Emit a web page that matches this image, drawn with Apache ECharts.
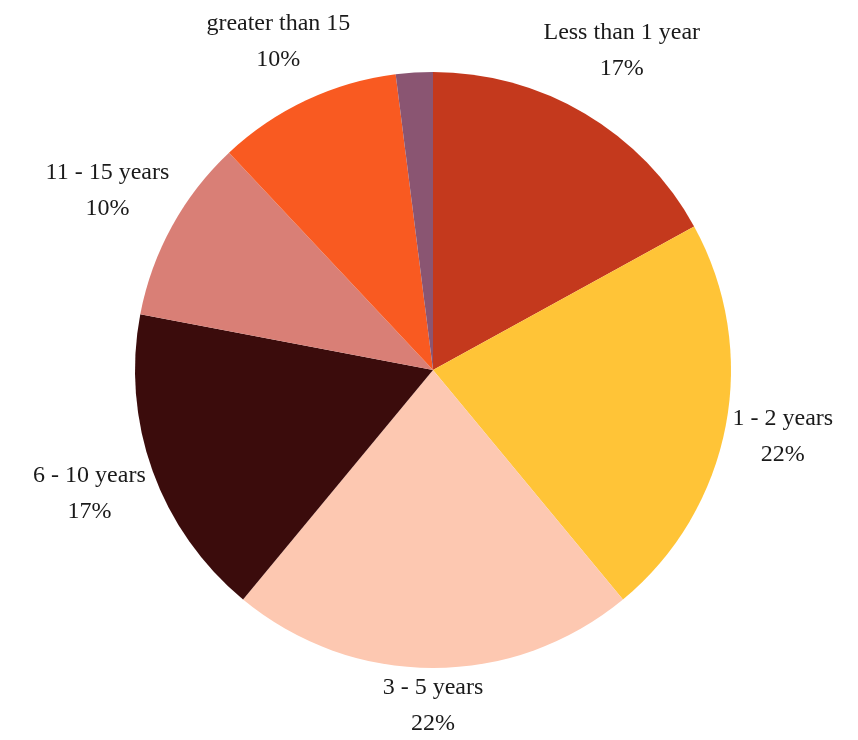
<!DOCTYPE html>
<html>
<head>
<meta charset="utf-8">
<script src="https://cdn.jsdelivr.net/npm/echarts@6/dist/echarts.min.js"></script>
<style>html,body{margin:0;padding:0;background:#fff}#c{width:858px;height:740px}</style>
</head>
<body>
<div id="c"></div>
<script>
const categories = ['Less than 1 year', '1 - 2 years', '3 - 5 years', '6 - 10 years', '11 - 15 years', 'greater than 15', 'Other'];
const values = [17, 22, 22, 17, 10, 10, 2];
const colors = ['#C4391D', '#FFC437', '#FDC8B1', '#3B0C0C', '#D97F76', '#F95A21', '#8A5572'];
const showLabel = [true, true, true, true, true, true, false];

const chart = echarts.init(document.getElementById('c'));
const cx = 433, cy = 370;
const total = values.reduce((a, b) => a + b, 0);

const mainData = categories.map((n, i) => ({ name: n, value: values[i], itemStyle: { color: colors[i] } }));
const labelData = categories.map((n, i) => ({ name: n, value: values[i], label: { show: showLabel[i] } }));

chart.setOption({
  animation: false,
  series: [
    {
      type: 'pie',
      center: [cx, cy],
      radius: [0, 298],
      startAngle: 90,
      clockwise: true,
      silent: true,
      data: mainData,
      label: { show: false },
      labelLine: { show: false },
      itemStyle: { borderWidth: 0 }
    },
    {
      type: 'pie',
      center: [cx, cy],
      radius: [292, 302],
      startAngle: 90,
      clockwise: true,
      silent: true,
      data: labelData,
      itemStyle: { color: 'rgba(0,0,0,0)' },
      label: {
        show: true,
        position: 'inside',
        formatter: p => p.name + '\n' + Math.round(p.value / total * 100) + '%',
        fontFamily: 'Liberation Serif, DejaVu Serif, serif',
        fontSize: 24,
        lineHeight: 36,
        color: '#1a1a1a',
        align: 'center'
      },
      labelLine: { show: false },
      labelLayout: function (params) {
        const r = params.labelRect;
        const lx = r.x + r.width / 2, ly = r.y + r.height / 2;
        const dx = lx - cx, dy = ly - cy;
        const d = Math.hypot(dx, dy) || 1;
        const ux = dx / d, uy = dy / d;
        const s = Math.abs(ux) * r.width / 2 + Math.abs(uy) * r.height / 2;
        return { x: lx + ux * s, y: ly + uy * s, align: 'center', verticalAlign: 'middle' };
      }
    }
  ]
});
</script>
</body>
</html>
